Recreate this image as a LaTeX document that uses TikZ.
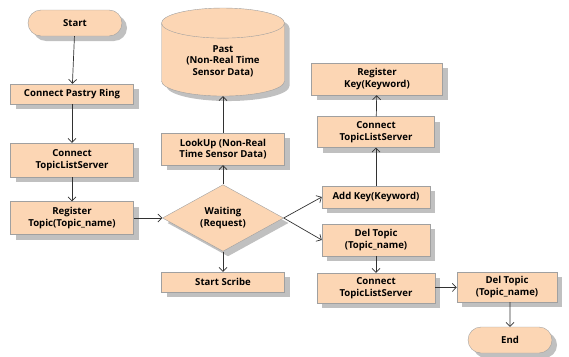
\documentclass[tikz,border=0pt]{standalone}
\usepackage{fontspec}
\setmainfont{Open Sans}
\usetikzlibrary{shapes.geometric,shapes.misc,shadows,arrows.meta}

\definecolor{boxfill}{RGB}{252,214,180}
\definecolor{boxline}{RGB}{160,160,160}
\definecolor{shadowgray}{RGB}{192,192,192}
\definecolor{linegray}{RGB}{50,50,50}

\begin{document}
\begin{tikzpicture}[x=1pt, y=-1pt,
    base/.style={draw=boxline, fill=boxfill, align=center, inner sep=1pt,
        font=\bfseries\fontsize{9.6}{11.5}\selectfont,
        general shadow={fill=shadowgray, shadow xshift=5pt, shadow yshift=-5pt}},
    box/.style={base, rectangle},
    terminal/.style={base, rounded rectangle, minimum height=26pt},
    decision/.style={base, diamond, minimum width=121pt, minimum height=64pt, inner sep=0pt},
    store/.style={base, cylinder, shape border rotate=90, aspect=0.4},
    flow/.style={draw=linegray, line width=0.7pt, -{Straight Barb[length=4pt, width=8pt]}}]

    \useasboundingbox (0,0) rectangle (569,356);

    % Nodes
    \node[terminal, minimum width=96pt] (start) at (75,23) {Start};
    \node[box, minimum width=123pt, minimum height=20pt] (pastry) at (72,94) {Connect Pastry Ring};
    \node[box, minimum width=123pt, minimum height=34pt] (tls1) at (72,160) {Connect\\TopicListServer};
    \node[box, minimum width=123pt, minimum height=33pt] (regtopic) at (72,218) {Register\\Topic(Topic\_name)};

    \node[decision] (waiting) at (223,218) {Waiting\\(Request)};
    \node[box, minimum width=123pt, minimum height=20pt] (scribe) at (223,282) {Start Scribe};
    \node[box, minimum width=123pt, minimum height=32pt] (lookup) at (223,149) {LookUp (Non-Real\\Time Sensor Data)};
    \node[store, minimum width=123pt, minimum height=88pt] (past) at (223,61) {Past\\(Non-Real Time\\Sensor Data)};

    \node[box, minimum width=131pt, minimum height=32pt] (regkey) at (377,79) {Register\\Key(Keyword)};
    \node[box, minimum width=117pt, minimum height=31pt] (tls2) at (376,132) {Connect\\TopicListServer};
    \node[box, minimum width=108pt, minimum height=22pt] (addkey) at (376,197) {Add Key(Keyword)};
    \node[box, minimum width=108pt, minimum height=32pt] (deltopic1) at (376,240) {Del Topic\\(Topic\_name)};
    \node[box, minimum width=118pt, minimum height=30pt] (tls3) at (376,288) {Connect\\TopicListServer};
    \node[box, minimum width=100pt, minimum height=30pt] (deltopic2) at (507,287) {Del Topic\\(Topic\_name)};
    \node[terminal, minimum width=86pt] (end) at (510,340) {End};

    % Edges
    \draw[flow] (start) -- (pastry);
    \draw[flow] (pastry) -- (tls1);
    \draw[flow] (tls1) -- (regtopic);
    \draw[flow] (regtopic) -- (waiting);
    \draw[flow] (waiting) -- (scribe);
    \draw[flow] (waiting) -- (lookup);
    \draw[flow] (lookup) -- (past);
    \draw[flow] (waiting.east) -- (addkey.west);
    \draw[flow] (waiting.east) -- (deltopic1.west);
    \draw[flow] (addkey) -- (tls2);
    \draw[flow] (tls2) -- (regkey);
    \draw[flow] (deltopic1) -- (tls3);
    \draw[flow] (tls3) -- (deltopic2);
    \draw[flow] (deltopic2.south -| end) -- (end);
\end{tikzpicture}
\end{document}
